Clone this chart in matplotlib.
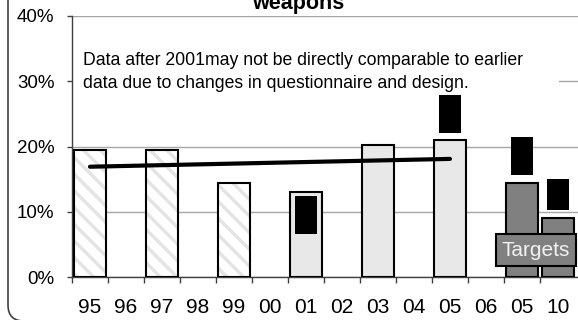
import matplotlib
matplotlib.use("Agg")
import matplotlib.pyplot as plt
from matplotlib.patches import Rectangle, FancyBboxPatch

plt.rcParams['font.family'] = ['Liberation Sans', 'DejaVu Sans']
plt.rcParams['hatch.linewidth'] = 2.5

# survey years, then the two target years
years = ['95', '96', '97', '98', '99', '00', '01', '02', '03', '04', '05', '06', '05', '10']
# percent carrying weapons (None = no survey that year)
pct = [19.4, None, 19.4, None, 14.4, None, 13.1, None, 20.3, None, 21.0, None, 14.4, 9.1]
# black range markers: (index, low, high)
marker_idx = [6, 10, 12, 13]
marker_lo = [6.6, 22.1, 15.6, 10.3]
marker_hi = [12.4, 27.9, 21.5, 15.0]
# trend line between 95 and 05
trend_x = [0, 10]
trend_y = [16.9, 18.1]

old_idx = [0, 2, 4]
new_idx = [6, 8, 10]
target_idx = [12, 13]

fig = plt.figure(figsize=(5.78, 3.2), dpi=100)
ax = fig.add_axes([72 / 578, 43 / 320, 506 / 578, 261 / 320])

ax.set_ylim(0, 40)
ax.set_xlim(-0.5, 13.556)

ax.set_yticks([0, 10, 20, 30, 40])
ax.set_yticklabels(['0%', '10%', '20%', '30%', '40%'])
ax.yaxis.grid(True, color='#a6a6a6', lw=1.0, zorder=0)
ax.set_axisbelow(True)

# category boundaries get the tick marks, labels sit at the centres
ax.set_xticks([i - 0.5 for i in range(len(years))])
ax.set_xticklabels([])
ax.set_xticks(range(len(years)), minor=True)
ax.set_xticklabels(years, minor=True)
ax.tick_params(axis='x', which='major', length=4.3, width=1, color='#404040', direction='out')
ax.tick_params(axis='x', which='minor', length=0, pad=15, labelsize=15)
ax.tick_params(axis='y', length=3.6, width=1, color='#404040', direction='out', pad=9, labelsize=13.5)

for s in ['top', 'right']:
    ax.spines[s].set_visible(False)
for s in ['left', 'bottom']:
    ax.spines[s].set_color('#404040')
    ax.spines[s].set_linewidth(1.0)

w = 0.9
# hatched bars: stripes first, outline on top
ax.bar(old_idx, [pct[i] for i in old_idx], width=w, color='white',
       edgecolor='#e4e4e4', hatch='\\\\', lw=0, zorder=2)
ax.bar(old_idx, [pct[i] for i in old_idx], width=w, fill=False,
       edgecolor='black', lw=1.5, zorder=3)
ax.bar(new_idx, [pct[i] for i in new_idx], width=w, color='#e8e8e8',
       edgecolor='black', lw=1.5, zorder=3)
ax.bar(target_idx, [pct[i] for i in target_idx], width=w, color='#808080',
       edgecolor='black', lw=1.5, zorder=3)

ax.bar(marker_idx, [h - l for l, h in zip(marker_lo, marker_hi)], bottom=marker_lo,
       width=0.61, color='black', lw=0, zorder=4)

ax.plot(trend_x, trend_y, color='black', lw=3, solid_capstyle='round', zorder=5)

# white panel behind the note hides the 30% gridline
ax.add_patch(Rectangle((-0.5, 26.5), 13.53, 9.5, facecolor='white', edgecolor='none', zorder=1))
ax.text(-0.19, 32.5, 'Data after 2001may not be directly comparable to earlier',
        fontsize=12.7, va='baseline', ha='left', zorder=6)
ax.text(-0.19, 28.9, 'data due to changes in questionnaire and design.',
        fontsize=12.7, va='baseline', ha='left', zorder=6)

ax.text(11.44, 4.1, 'Targets', fontsize=15, color='#f2f2f2', va='center', ha='left',
        zorder=7, clip_on=False,
        bbox=dict(boxstyle='square,pad=0.3', facecolor='#808080', edgecolor='black', lw=1.5))

fig.text(298 / 578, 1 - 9.5 / 320, 'weapons', fontsize=15.5, fontweight='bold',
         ha='center', va='baseline')

# rounded outer frame, mostly outside the canvas
frame = FancyBboxPatch((8, -1), 800, 500, boxstyle='round,pad=0,rounding_size=16',
                       transform=None, facecolor='none', edgecolor='#404040', lw=1.2)
fig.patches.append(frame)

fig.savefig('out.png', dpi=100)
